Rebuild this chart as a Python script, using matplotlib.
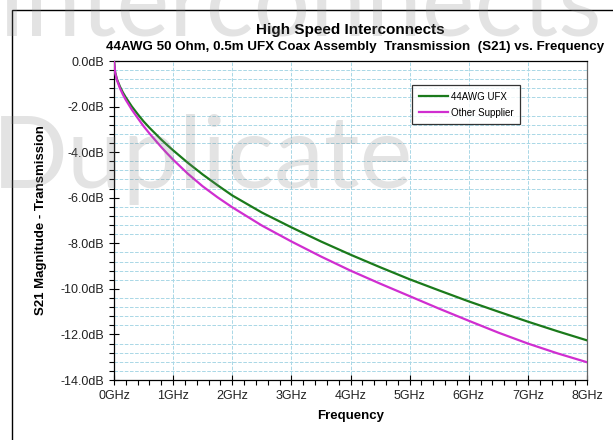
import matplotlib
matplotlib.use('Agg')
import matplotlib.pyplot as plt
from matplotlib.patches import Rectangle
from matplotlib.ticker import MultipleLocator, FuncFormatter

# frequency in GHz, S21 in dB
freq = [0, 0.02, 0.05, 0.1, 0.15, 0.2, 0.3, 0.4, 0.5, 0.6, 0.7, 0.8, 0.9, 1.0,
        1.25, 1.5, 1.75, 2.0, 2.5, 3.0, 3.5, 4.0, 4.5, 5.0, 5.5, 6.0, 6.5, 7.0,
        7.5, 8.0]
s21_ufx = [0, -0.5, -0.8, -1.12, -1.38, -1.6, -1.99, -2.33, -2.65, -2.93, -3.19,
           -3.45, -3.69, -3.92, -4.47, -4.98, -5.45, -5.9, -6.65, -7.3, -7.92,
           -8.5, -9.05, -9.58, -10.07, -10.55, -11.0, -11.44, -11.86, -12.26]
s21_other = [0, -0.52, -0.84, -1.19, -1.47, -1.71, -2.13, -2.5, -2.86, -3.18,
             -3.48, -3.78, -4.06, -4.33, -4.95, -5.5, -5.98, -6.42, -7.22, -7.92,
             -8.58, -9.2, -9.77, -10.32, -10.87, -11.4, -11.92, -12.4, -12.83, -13.22]
series_names = ['44AWG UFX', 'Other Supplier']

plt.rcParams['font.family'] = ['Liberation Sans', 'DejaVu Sans']

fig = plt.figure(figsize=(6.13, 4.4), dpi=100)
ax = fig.add_axes([114/613, 1 - 380/440, (587 - 114)/613, (380 - 61)/440])

ax.plot(freq, s21_ufx, color='#1b7a1b', lw=1.6, label=series_names[0], zorder=3)
ax.plot(freq, s21_other, color='#d02ed0', lw=1.6, label=series_names[1], zorder=3)

ax.set_xlim(0, 8)
ax.set_ylim(-14, 0)
ax.xaxis.set_major_locator(MultipleLocator(1))
ax.xaxis.set_minor_locator(MultipleLocator(0.2))
ax.yaxis.set_major_locator(MultipleLocator(2))
ax.yaxis.set_minor_locator(MultipleLocator(0.4))
ax.xaxis.set_major_formatter(FuncFormatter(lambda v, p: f'{v:.0f}GHz'))
ax.yaxis.set_major_formatter(FuncFormatter(lambda v, p: f'{v:.1f}dB'.replace('-0.0', '0.0')))
ax.tick_params(which='major', direction='inout', length=7, width=0.8, labelsize=9,
               labelcolor='#222222')
ax.tick_params(which='minor', direction='out', length=3.5, width=0.8)

ax.grid(True, which='major', axis='x', color='#a9d7e6', ls='--', lw=0.7)
ax.grid(True, which='minor', axis='y', color='#a9d7e6', ls='--', lw=0.7)
ax.set_axisbelow(True)
for side in ['top', 'right', 'left', 'bottom']:
    ax.spines[side].set_linewidth(0.9)
ax.spines['right'].set_color('#666666')

ax.set_xlabel('Frequency', fontsize=9.5, fontweight='bold', labelpad=6)
ax.set_ylabel('S21 Magnitude - Transmission', fontsize=9.5, fontweight='bold', labelpad=10)

leg = ax.legend(loc='upper left', bbox_to_anchor=((412 - 114)/473, 1 - (85 - 61)/319),
                borderaxespad=0, fontsize=7, frameon=True, fancybox=False,
                edgecolor='black', handlelength=3.0, borderpad=0.7, labelspacing=0.6,
                handletextpad=0.3)
leg.get_frame().set_linewidth(0.9)

fig.text(350/613, 1 - 34/440, 'High Speed Interconnects', ha='center', va='baseline',
         fontsize=11, fontweight='bold')
fig.text(355/613, 1 - 50/440,
         '44AWG 50 Ohm, 0.5m UFX Coax Assembly  Transmission  (S21) vs. Frequency',
         ha='center', va='baseline', fontsize=9.6, fontweight='bold')

# outer frame
fig.patches.append(Rectangle((12/613, -0.1), 1.2, 1.1 - 10/440, transform=fig.transFigure,
                             fill=False, lw=1, ec='black'))

# watermark
fig.text(-2/613, 1 - 35/440, 'Interconnects', fontsize=72, color='#808080', alpha=0.22,
         family=['Lato', 'DejaVu Sans'], va='baseline', ha='left', zorder=10)
fig.text(-8/613, 1 - 188/440, 'Duplicate', fontsize=72, color='#808080', alpha=0.22,
         family=['Lato', 'DejaVu Sans'], va='baseline', ha='left', zorder=10)

plt.savefig('out.png', dpi=100)
